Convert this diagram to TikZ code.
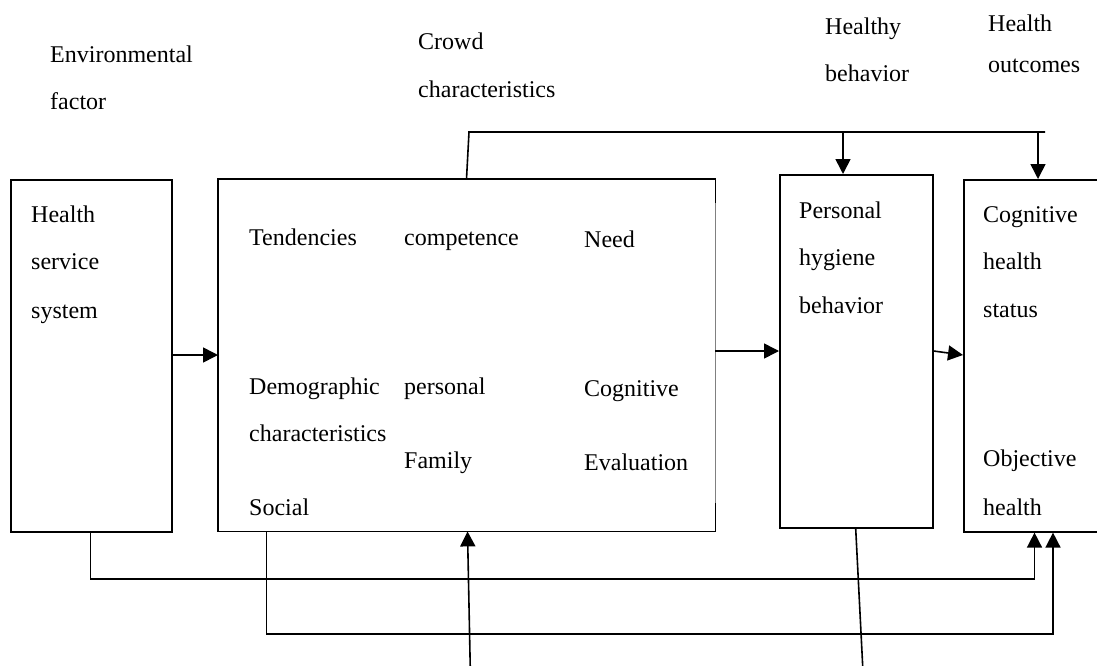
\documentclass[tikz,border=0pt]{standalone}
\usepackage{fontspec}
\setmainfont{Liberation Serif}
\usetikzlibrary{arrows.meta}
\begin{document}
\begin{tikzpicture}[x=1pt,y=-1pt,
  lbl/.style={anchor=base west,inner sep=0pt,font=\fontsize{24}{28}\selectfont},
  boxnode/.style={draw,line width=1.6pt,inner sep=0pt,anchor=north west},
  wire/.style={line width=1.6pt},
  arr/.style={line width=1.6pt,-{Triangle[length=15pt,width=15pt]}}]
\useasboundingbox (0,0) rectangle (1097,666);
\clip (0,0) rectangle (1097,666);
\fill[white] (0,0) rectangle (1097,666);

% column headings
\node[lbl] (envA) at (50,63) {Environmental};
\node[lbl] (envB) at (50,110) {factor};
\node[lbl] (crwA) at (418,50) {Crowd};
\node[lbl] (crwB) at (418,98) {characteristics};
\node[lbl] (hbA) at (825,35) {Healthy};
\node[lbl] (hbB) at (825,82) {behavior};
\node[lbl] (hoA) at (988,32) {Health};
\node[lbl] (hoB) at (988,73) {outcomes};

% boxes
\node[boxnode,minimum width=161pt,minimum height=352pt] (hss) at (10,179) {};
\node[inner sep=0pt,anchor=north west,minimum width=497pt,minimum height=352pt] (crowd) at (218,179) {};
\node[boxnode,minimum width=153pt,minimum height=353pt] (pers) at (779,174) {};
\node[boxnode,minimum width=140pt,minimum height=352pt] (outc) at (963,179) {};

% outline of the crowd box: right side partly drawn with a fine grey line
\draw[wire] (crowd.north east) ++(0,24) -- (crowd.north east) -- (crowd.north west)
  -- (crowd.south west) -- (crowd.south east) -- ++(0,-28);
\draw[gray,line width=0.6pt] (crowd.north east) ++(0,24) -- ++(0,300);

% texts inside boxes
\node[lbl] (t1) at (31,222) {Health};
\node[lbl] (t2) at (31,269) {service};
\node[lbl] (t3) at (31,318) {system};

\node[lbl] (c1) at (249,245) {Tendencies};
\node[lbl] (c2) at (404,245) {competence};
\node[lbl] (c3) at (584,247) {Need};
\node[lbl] (c4) at (249,394) {Demographic};
\node[lbl] (c5) at (249,441) {characteristics};
\node[lbl] (c6) at (249,515) {Social};
\node[lbl] (c7) at (404,394) {personal};
\node[lbl] (c8) at (404,468) {Family};
\node[lbl] (c9) at (584,396) {Cognitive};
\node[lbl] (c10) at (584,470) {Evaluation};

\node[lbl] (p1) at (799,218) {Personal};
\node[lbl] (p2) at (799,265) {hygiene};
\node[lbl] (p3) at (799,313) {behavior};

\node[lbl] (o1) at (983,222) {Cognitive};
\node[lbl] (o2) at (983,269) {health};
\node[lbl] (o3) at (983,317) {status};
\node[lbl] (o4) at (983,466) {Objective};
\node[lbl] (o5) at (983,515) {health};

% feedback line along the top
\coordinate (topL) at (469,132);
\coordinate (topR) at (1045,132);
\draw[wire] (466.5,179) -- (topL) -- (topR);
\draw[arr] (843,132) -- (pers.north -| 843,0);
\draw[arr] (1038,132) -- (outc.north -| 1038,0);

% main flow
\draw[arr] (hss.east |- 0,355) -- (crowd.west |- 0,355);
\draw[arr] (crowd.east |- 0,351) -- (pers.west |- 0,351);
\draw[arr] (pers.east |- 0,351) -- (outc.west |- 0,355);

% lower connectors
\draw[arr] (hss.south -| 90.5,0) -- (90.5,579) -- (1034.5,579) -- (outc.south -| 1034.5,0);
\draw[arr] (crowd.south -| 266.6,0) -- (266.6,634) -- (1053,634) -- (outc.south -| 1053,0);

% lines running off the bottom edge
\coordinate (inB) at (470.5,680);
\coordinate (outB) at (863.4,680);
\draw[arr] (inB) -- (crowd.south -| 467.5,0);
\draw[wire] (pers.south -| 855.7,0) -- (outB);
\end{tikzpicture}
\end{document}
